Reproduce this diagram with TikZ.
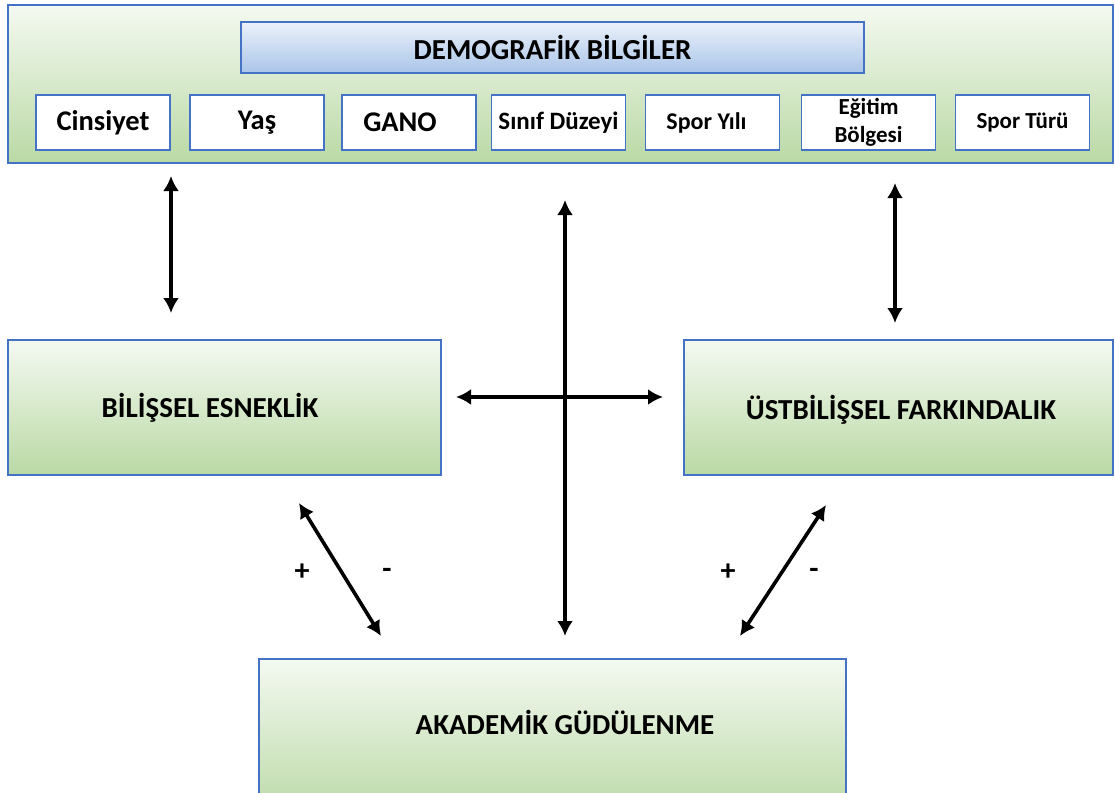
\documentclass[tikz,border=0pt]{standalone}
\usepackage{fontspec}
\setmainfont{Carlito}
\usetikzlibrary{arrows.meta,calc}
\definecolor{boxblue}{HTML}{4472C4}
\definecolor{greentop}{HTML}{F4F9F1}
\definecolor{greenbot}{HTML}{BAD9A5}
\definecolor{bluetop}{HTML}{EBF1FA}
\definecolor{bluebot}{HTML}{A9C5E8}

\begin{document}
\begin{tikzpicture}[x=1pt,y=-1pt,
  greenbox/.style={draw=boxblue,line width=1.8pt,top color=greentop,bottom color=greenbot,inner sep=0pt,outer sep=0pt},
  itembox/.style={draw=boxblue,line width=1.8pt,fill=white,minimum width=134pt,minimum height=55pt,inner sep=0pt,outer sep=0pt,align=center},
  bigtext/.style={font=\bfseries\fontsize{29}{31}\selectfont},
  biarrow/.style={line width=3.6pt,{Latex[length=15pt,width=16pt]}-{Latex[length=15pt,width=16pt]}},
  sign/.style={font=\bfseries\fontsize{30}{32}\selectfont}]

\clip (0,0) rectangle (1115,792);

% demografik bilgiler
\node[greenbox,minimum width=1105pt,minimum height=158pt] (demo) at (560.5,84) {};
\node[draw=boxblue,line width=1.8pt,top color=bluetop,bottom color=bluebot,minimum width=623pt,minimum height=51pt,inner sep=0pt,outer sep=0pt,bigtext] (title) at (552.5,47.5) {DEMOGRAFİK BİLGİLER};
\node[itembox,font=\bfseries\fontsize{28.5}{30}\selectfont] (cins) at (103,122.5) {Cinsiyet};
\node[itembox,font=\bfseries\fontsize{28.5}{30}\selectfont] (yas) at (257,122.5) {Yaş};
\node[itembox,font=\bfseries\fontsize{28.5}{30}\selectfont] (gano) at (409,122.5) {GANO\hspace*{18pt}};
\node[itembox,font=\bfseries\fontsize{25}{27}\selectfont] (sinif) at (558.5,122.5) {Sınıf Düzeyi};
\node[itembox,font=\bfseries\fontsize{24}{26}\selectfont] (sporyili) at (712.5,122.5) {Spor Yılı\hspace*{12pt}};
\node[itembox,font=\bfseries\fontsize{23}{28}\selectfont] (egitim) at (868.5,122.5) {Eğitim\\Bölgesi};
\node[itembox,font=\bfseries\fontsize{23}{25}\selectfont] (sporturu) at (1022.5,122.5) {Spor Türü};

% ana kutular
\node[greenbox,minimum width=433pt,minimum height=135pt] (bil) at (224.5,407.5) {};
\node[bigtext] (biltext) at (210,408) {BİLİŞSEL ESNEKLİK};
\node[greenbox,minimum width=429pt,minimum height=135pt] (ust) at (898.5,407.5) {};
\node[bigtext] (usttext) at (901,410) {ÜSTBİLİŞSEL FARKINDALIK};
\node[greenbox,minimum width=587pt,minimum height=160pt,anchor=north] (akad) at (552.5,659) {};
\node[bigtext] (akadtext) at (565,722) {AKADEMİK GÜDÜLENME};

% oklar
\draw[biarrow] ($(demo.south -| cins.east)+(1,13)$) -- ($(bil.north -| cins.east)+(1,-27)$);
\draw[biarrow] ($(demo.south)+(334.5,20)$) -- ($(ust.north)+(-3.5,-17)$);
\draw[biarrow] ($(demo.south)+(4.5,37)$) -- ($(akad.north)+(12.5,-23)$);
\draw[biarrow] ($(bil.east)+(15,-10.5)$) -- ($(ust.west)+(-21,-10.5)$);
\draw[biarrow] ($(bil.south)+(74.5,28)$) -- ($(akad.north)+(-171.5,-23)$);
\draw[biarrow] ($(ust.south)+(-72.5,30)$) -- ($(akad.north)+(187.5,-23)$);

% isaretler
\node[sign] (p1) at (302,572) {+};
\node[sign] (m1) at (387,573) {-};
\node[sign] (p2) at (728,572) {+};
\node[sign] (m2) at (814,573) {-};
\end{tikzpicture}
\end{document}
